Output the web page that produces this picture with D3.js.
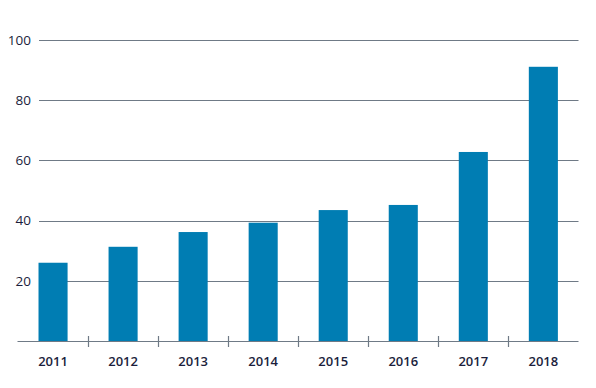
<!DOCTYPE html>
<html><head><meta charset="utf-8">
<script src="https://cdn.jsdelivr.net/npm/d3@7"></script>
<style>body{margin:0;background:#fff}svg{display:block}</style>
</head><body>
<svg id="c" width="596" height="388"></svg>
<script>
const categories = ["2011","2012","2013","2014","2015","2016","2017","2018"];
const values = [26.0, 31.3, 36.2, 39.3, 43.5, 45.2, 62.8, 91.1];
const yTicks = [20, 40, 60, 80, 100];

(function(){
const svg = d3.select("#c");
const mLeft = 17.5, mRight = 577.5, mTop = 40, mBottom = 341;
const x = d3.scaleBand().domain(categories).range([mLeft + 0.7, mRight + 0.7]).paddingInner(0.585).paddingOuter(0.29);
const y = d3.scaleLinear().domain([0, 100]).range([mBottom, mTop]);
const textColor = "#1b1e3c", gridColor = "#6f7a86", barColor = "#007db3";

svg.append("g").selectAll("line").data(yTicks).join("line")
  .attr("x1", 39).attr("x2", mRight+1).attr("y1", d => Math.round(y(d))+0.5).attr("y2", d => Math.round(y(d))+0.5)
  .attr("stroke", gridColor).attr("stroke-width", 1.2);

svg.append("g").selectAll("text").data(yTicks).join("text")
  .attr("x", 31).attr("y", d => y(d)).attr("dy", "0.35em").attr("text-anchor", "end")
  .attr("font-family", "Open Sans, sans-serif").attr("font-size", 13.5).attr("fill", textColor)
  .text(d => d);

svg.append("g").selectAll("rect").data(values).join("rect")
  .attr("x", (d,i) => x(categories[i])).attr("width", x.bandwidth())
  .attr("y", d => y(d)).attr("height", d => y(0) - y(d))
  .attr("fill", barColor);

svg.append("line").attr("x1", mLeft).attr("x2", mRight+1).attr("y1", Math.round(y(0))+0.5).attr("y2", Math.round(y(0))+0.5)
  .attr("stroke", gridColor).attr("stroke-width", 1.2);

const step = (mRight - mLeft) / categories.length;
const bounds = categories.slice(1).map((c,i) => mLeft + step*(i+1));
svg.append("g").selectAll("line").data(bounds).join("line")
  .attr("x1", d => Math.round(d)+0.5).attr("x2", d => Math.round(d)+0.5)
  .attr("y1", y(0)-5).attr("y2", y(0)+6)
  .attr("stroke", gridColor).attr("stroke-width", 1.2);

svg.append("g").selectAll("text").data(categories).join("text")
  .attr("x", d => x(d) + x.bandwidth()/2).attr("y", 365.5).attr("text-anchor", "middle")
  .attr("font-family", "Open Sans, sans-serif").attr("font-weight", 600).attr("font-size", 13).attr("fill", textColor)
  .text(d => d);
})();
</script>
</body></html>
